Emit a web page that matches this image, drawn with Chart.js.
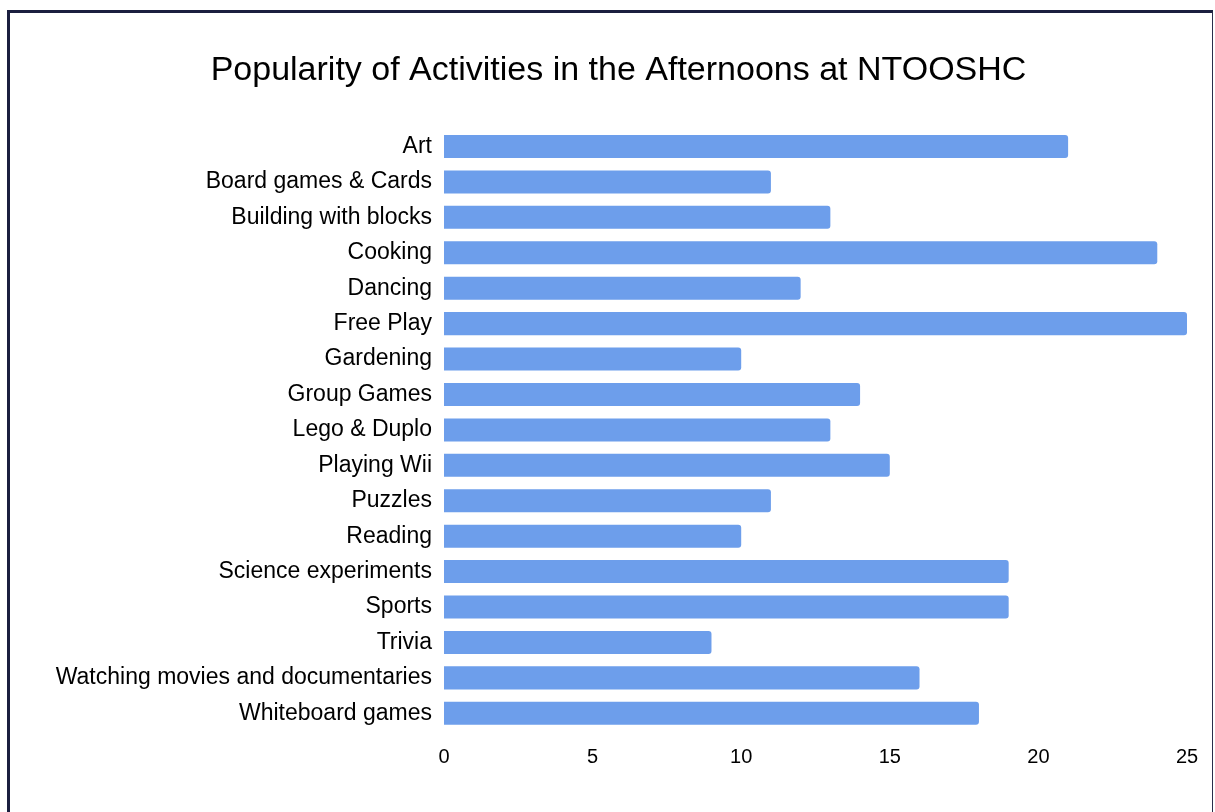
<!DOCTYPE html>
<html>
<head>
<meta charset="utf-8">
<script src="https://cdn.jsdelivr.net/npm/chart.js@4/dist/chart.umd.min.js"></script>
<style>
  html, body { margin: 0; padding: 0; background: #fff; overflow: hidden; }
  #frame {
    position: absolute; left: 7px; top: 10px; width: 1202px; height: 830px;
    border-left: 3px solid #1b1f3f; border-top: 3px solid #1b1f3f; border-right: 1px solid #2a2e4a;
  }
  #popChart { position: absolute; left: 0; top: 0; }
</style>
</head>
<body>
<div id="frame"></div>
<canvas id="popChart" width="1215" height="812"></canvas>
<script>
const activities = [
  'Art', 'Board games & Cards', 'Building with blocks', 'Cooking', 'Dancing',
  'Free Play', 'Gardening', 'Group Games', 'Lego & Duplo', 'Playing Wii',
  'Puzzles', 'Reading', 'Science experiments', 'Sports', 'Trivia',
  'Watching movies and documentaries', 'Whiteboard games'
];
const votes = [21, 11, 13, 24, 12, 25, 10, 14, 13, 15, 11, 10, 19, 19, 9, 16, 18];
const xTicks = [0, 5, 10, 15, 20, 25];

const ctx = document.getElementById('popChart').getContext('2d');
new Chart(ctx, {
  type: 'bar',
  data: {
    labels: activities,
    datasets: [{
      label: 'Votes',
      data: votes,
      backgroundColor: '#6d9eeb',
      borderRadius: 3,
      categoryPercentage: 1,
      barPercentage: 0.65,
    }],
  },
  options: {
    indexAxis: 'y',
    responsive: false,
    animation: false,
    // left padding just shifts the title centre over to the right
    layout: { padding: { left: 50, right: 28, top: 0, bottom: 0 } },
    plugins: {
      legend: { display: false },
      tooltip: { enabled: false },
      title: {
        display: true,
        text: 'Popularity of Activities in the Afternoons at NTOOSHC',
        color: '#000',
        font: { family: 'Liberation Sans, Arial, sans-serif', size: 34, weight: 'normal' },
        padding: { top: 50, bottom: 38 },
      },
    },
    scales: {
      x: {
        min: 0,
        max: 25,
        afterBuildTicks: (scale) => { scale.ticks = xTicks.map((v) => ({ value: v })); },
        afterFit: (scale) => { scale.height = 81; },
        grid: { display: false, drawTicks: false },
        border: { display: false },
        ticks: {
          color: '#000',
          padding: 14,
          maxRotation: 0,
          font: { family: 'Liberation Sans, Arial, sans-serif', size: 20 },
        },
      },
      y: {
        afterFit: (scale) => { scale.width = 394; },
        grid: { display: false, drawTicks: false },
        border: { display: false },
        ticks: {
          color: '#000',
          padding: 12,
          autoSkip: false,
          font: { family: 'Liberation Sans, Arial, sans-serif', size: 23 },
        },
      },
    },
  },
});
</script>
</body>
</html>
